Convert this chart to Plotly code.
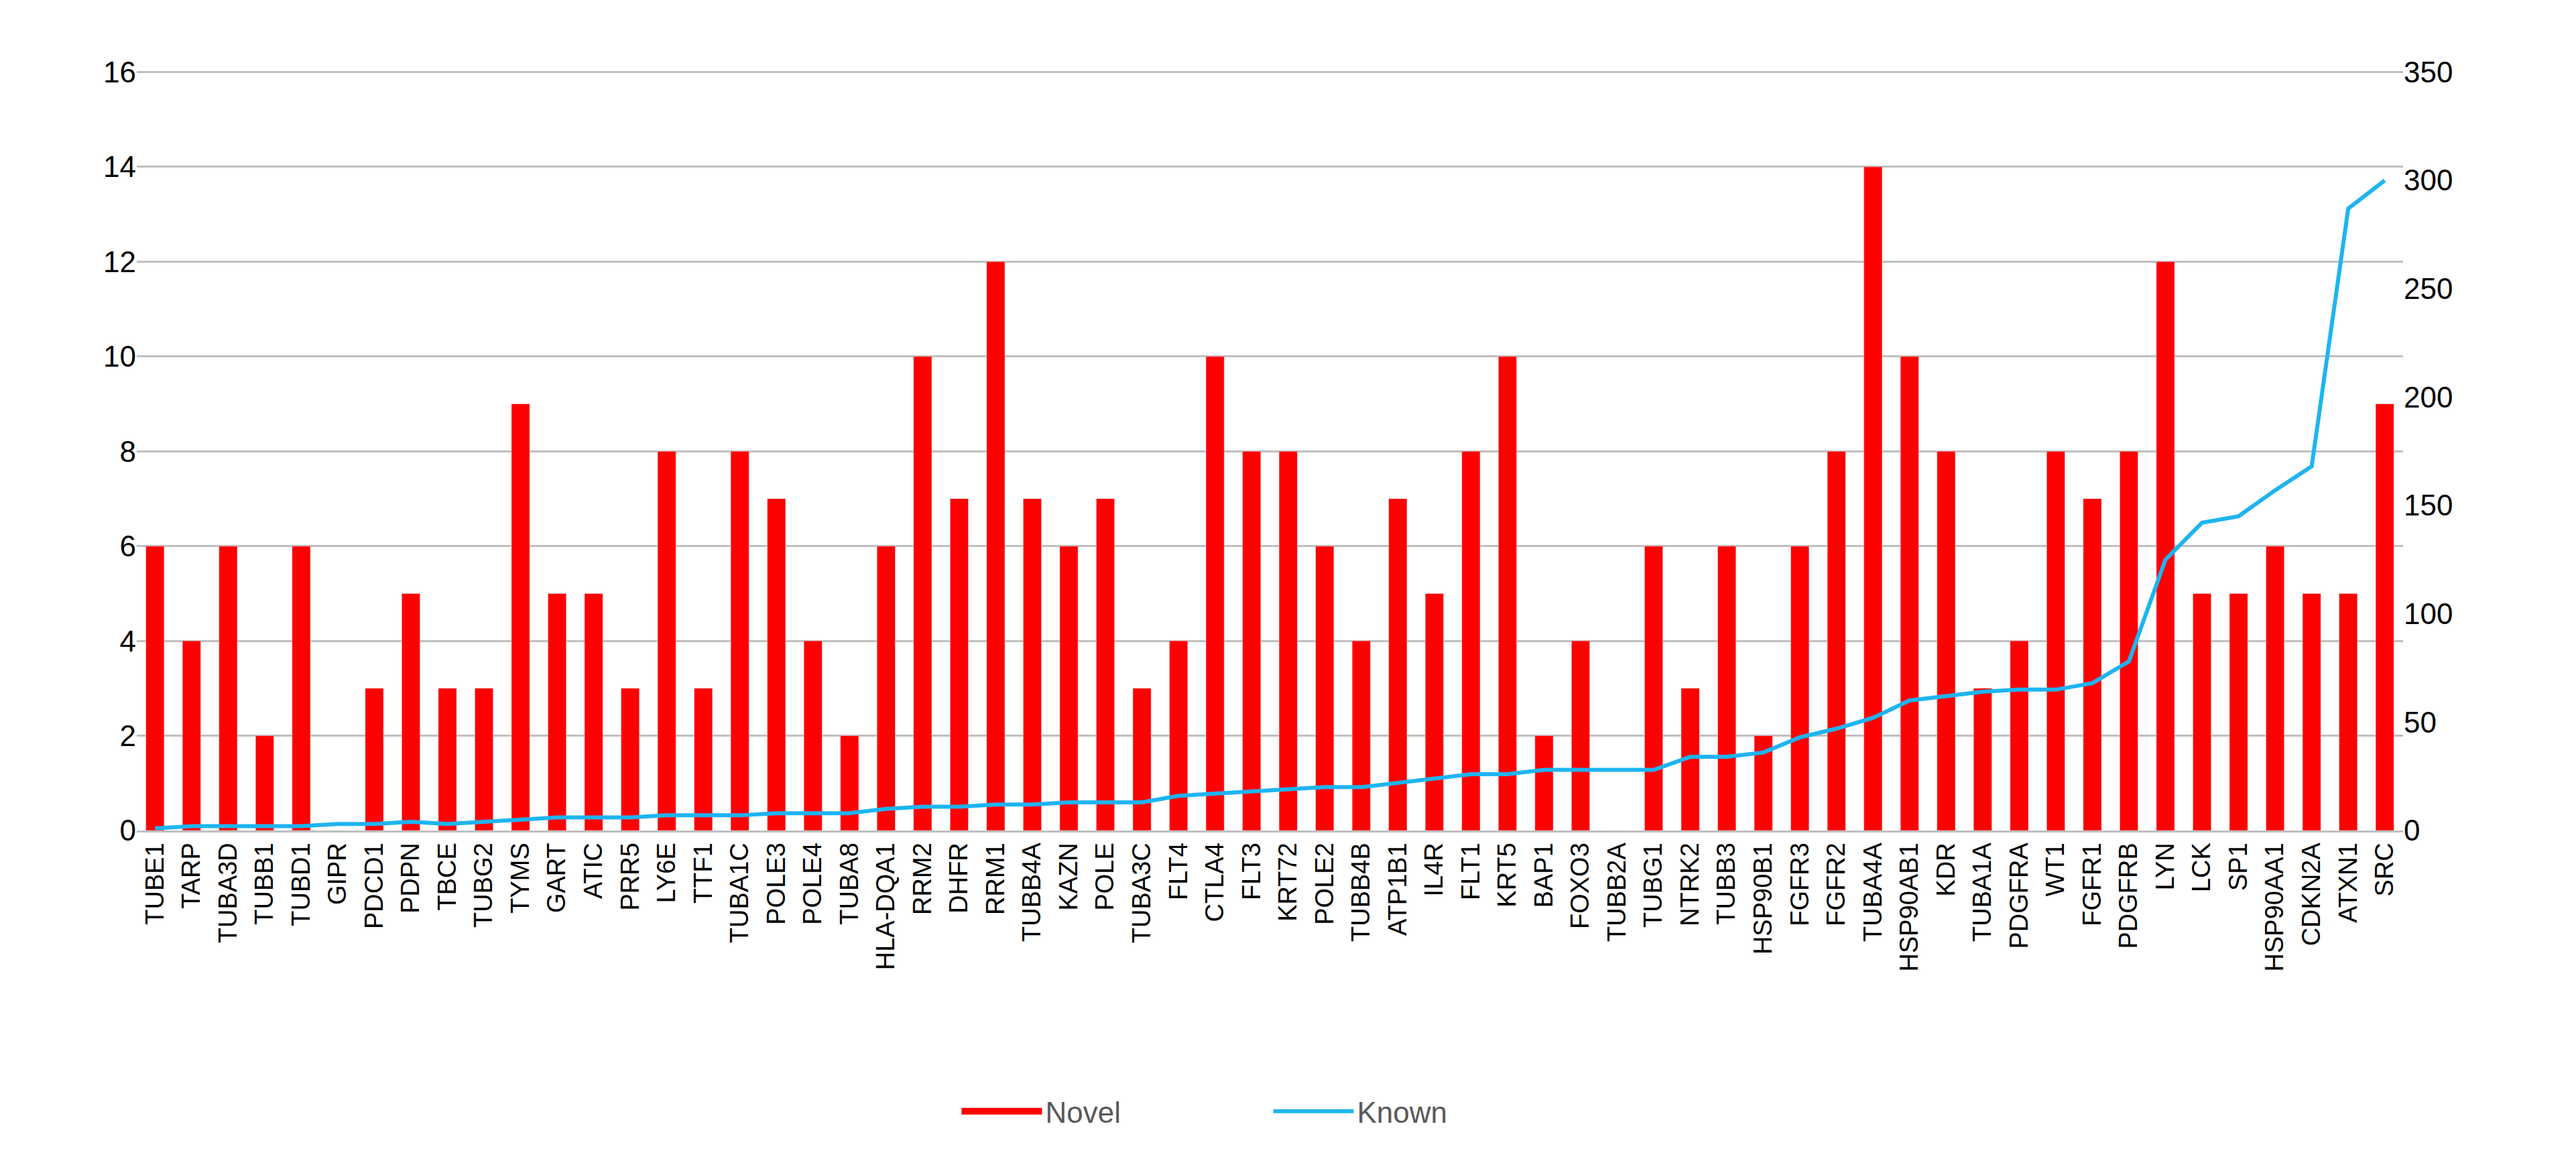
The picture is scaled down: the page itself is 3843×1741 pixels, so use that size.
import plotly.graph_objects as go

genes = ["TUBE1","TARP","TUBA3D","TUBB1","TUBD1","GIPR","PDCD1","PDPN","TBCE","TUBG2",
         "TYMS","GART","ATIC","PRR5","LY6E","TTF1","TUBA1C","POLE3","POLE4","TUBA8",
         "HLA-DQA1","RRM2","DHFR","RRM1","TUBB4A","KAZN","POLE","TUBA3C","FLT4","CTLA4",
         "FLT3","KRT72","POLE2","TUBB4B","ATP1B1","IL4R","FLT1","KRT5","BAP1","FOXO3",
         "TUBB2A","TUBG1","NTRK2","TUBB3","HSP90B1","FGFR3","FGFR2","TUBA4A","HSP90AB1","KDR",
         "TUBA1A","PDGFRA","WT1","FGFR1","PDGFRB","LYN","LCK","SP1","HSP90AA1","CDKN2A",
         "ATXN1","SRC"]
novel = [6,4,6,2,6,0,3,5,3,3,
         9,5,5,3,8,3,8,7,4,2,
         6,10,7,12,7,6,7,3,4,10,
         8,8,6,4,7,5,8,10,2,4,
         0,6,3,6,2,6,8,14,10,8,
         3,4,8,7,8,12,5,5,6,5,
         5,9]
known = [1,2,2,2,2,3,3,4,3,4,
         5,6,6,6,7,7,7,8,8,8,
         10,11,11,12,12,13,13,13,16,17,
         18,19,20,20,22,24,26,26,28,28,
         28,28,34,34,36,43,47,52,60,62,
         64,65,65,68,78,125,142,145,157,168,
         287,300]

fig = go.Figure()
fig.add_trace(go.Bar(x=genes, y=novel, name="Novel", marker_color="#FF0000", width=0.5,
                     showlegend=False))
# legend swatch for Novel (thick line looks like the filled rectangle)
fig.add_trace(go.Scatter(x=[None], y=[None], name="Novel", mode="lines",
                         line=dict(color="#FF0000", width=30)))
fig.add_trace(go.Scatter(x=genes, y=known, name="Known", yaxis="y2", mode="lines",
                         line=dict(color="#1EB4F0", width=6)))
fig.update_layout(
    width=3843, height=1741, plot_bgcolor="white", paper_bgcolor="white",
    margin=dict(l=196, r=266, t=98, b=510),
    font=dict(family="Liberation Sans, Arial", size=44, color="#000"),
    xaxis=dict(tickangle=-90, tickfont=dict(size=38), showline=True, linecolor="#BFBFBF",
               linewidth=3, ticks="", range=[-0.5, len(genes)-0.5]),
    yaxis=dict(range=[0,16.02], tickvals=[0,2,4,6,8,10,12,14,16], showgrid=True,
               gridcolor="#BFBFBF", gridwidth=3, zeroline=False, ticks="", ticksuffix="  "),
    yaxis2=dict(range=[0,350.4375], tickvals=[0,50,100,150,200,250,300,350], overlaying="y",
                side="right", showgrid=False, zeroline=False, tickprefix="  "),
    legend=dict(orientation="h", x=0.5, xanchor="center", y=-0.37, yanchor="middle",
                font=dict(size=44, color="#595959"), itemwidth=120,
                entrywidth=330),
)
fig.write_html("out.html")
